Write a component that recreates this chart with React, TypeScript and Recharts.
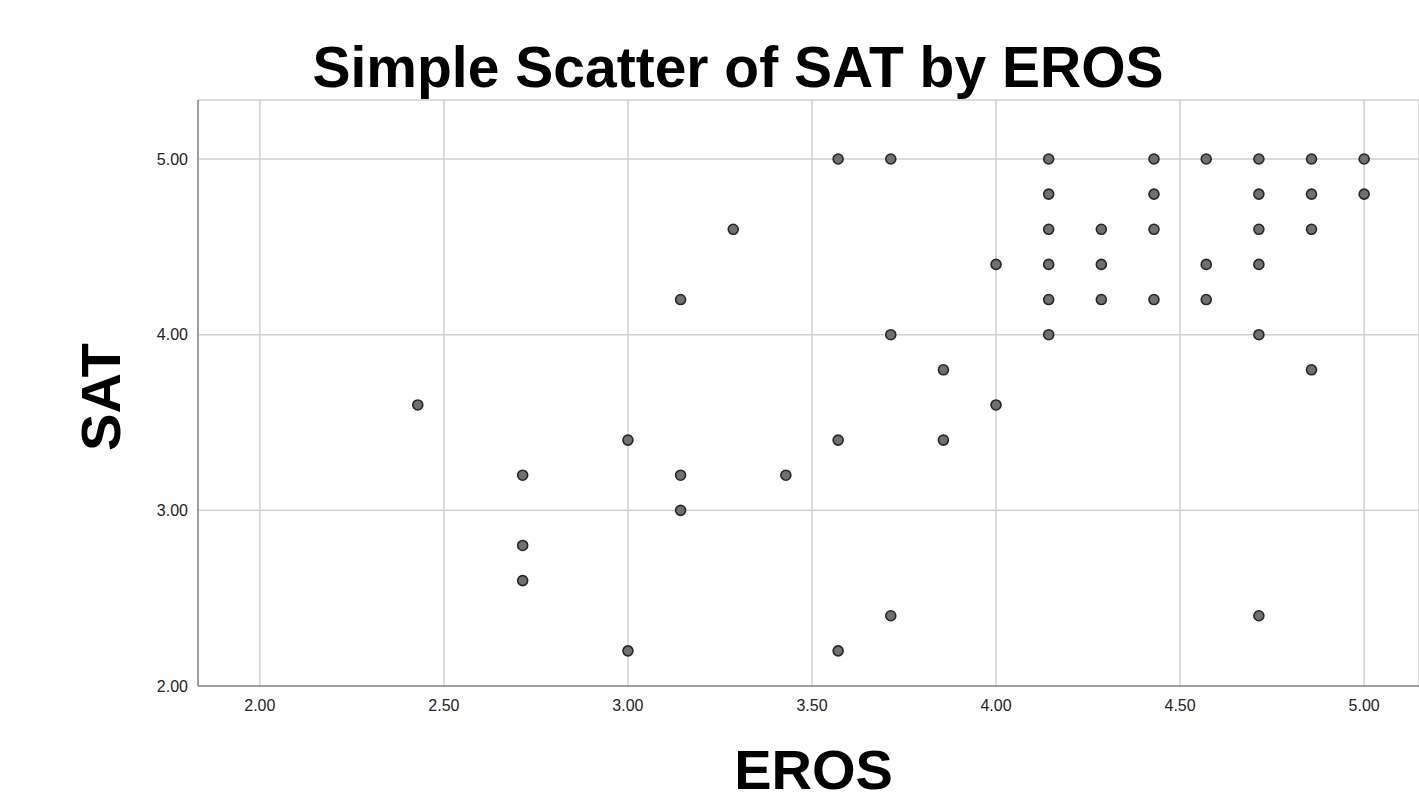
import React from "react";
import { ScatterChart, Scatter, XAxis, YAxis, CartesianGrid, Label } from "recharts";

const erosValues = [
  2.429,
  2.714, 2.714, 2.714,
  3.0, 3.0,
  3.143, 3.143, 3.143,
  3.286,
  3.429,
  3.571, 3.571, 3.571,
  3.714, 3.714, 3.714,
  3.857, 3.857,
  4.0, 4.0,
  4.143, 4.143, 4.143, 4.143, 4.143, 4.143,
  4.286, 4.286, 4.286,
  4.429, 4.429, 4.429, 4.429,
  4.571, 4.571, 4.571,
  4.714, 4.714, 4.714, 4.714, 4.714, 4.714,
  4.857, 4.857, 4.857, 4.857,
  5.0, 5.0,
];
const satValues = [
  3.6,
  3.2, 2.8, 2.6,
  3.4, 2.2,
  4.2, 3.2, 3.0,
  4.6,
  3.2,
  5.0, 3.4, 2.2,
  5.0, 4.0, 2.4,
  3.8, 3.4,
  4.4, 3.6,
  5.0, 4.8, 4.6, 4.4, 4.2, 4.0,
  4.6, 4.4, 4.2,
  5.0, 4.8, 4.6, 4.2,
  5.0, 4.4, 4.2,
  5.0, 4.8, 4.6, 4.4, 4.0, 2.4,
  5.0, 4.8, 4.6, 3.8,
  5.0, 4.8,
];
const xTicks = [2.0, 2.5, 3.0, 3.5, 4.0, 4.5, 5.0];
const yTicks = [2.0, 3.0, 4.0, 5.0];
const title = "Simple Scatter of SAT by EROS";
const xLabel = "EROS";
const yLabel = "SAT";

const data = erosValues.map((e, i) => ({ eros: e, sat: satValues[i] }));

const FONT = '"Liberation Sans", Arial, Helvetica, sans-serif';

const dot = (props: any) => (
  <circle cx={props.cx} cy={props.cy} r={5} fill="#707070" stroke="#262626" strokeWidth={1.6} />
);

export default function App() {
  return (
    <div style={{ position: "absolute", left: 0, top: 0, width: 1419, height: 802, background: "#fff", fontFamily: FONT }}>
      <div
        style={{
          position: "absolute",
          left: 0,
          top: 32,
          width: 1476,
          textAlign: "center",
          fontSize: 57,
          fontWeight: 700,
          lineHeight: "70px",
          color: "#000",
          fontFamily: FONT,
        }}
      >
        {title}
      </div>
      <ScatterChart width={1419} height={802} margin={{ top: 100, right: 0, bottom: 0, left: 0 }}>
        <CartesianGrid stroke="#d0d0d0" strokeWidth={1.5} />
        <XAxis
          type="number"
          dataKey="eros"
          domain={[1.832, 5.149]}
          ticks={xTicks}
          tickFormatter={(v: number) => v.toFixed(2)}
          tickLine={false}
          tickSize={6}
          tickMargin={8}
          height={116}
          axisLine={{ stroke: "#8a8a8a", strokeWidth: 1.5 }}
          tick={{ fill: "#222", fontSize: 16, fontFamily: FONT }}
          allowDataOverflow
        >
          <Label
            content={(p: any) => {
              const vb = p.viewBox;
              return (
                <text x={vb.x + vb.width / 2 + 5} y={vb.y + 103} textAnchor="middle" fontSize={56} fontWeight={700} fontFamily={FONT} fill="#000">
                  {xLabel}
                </text>
              );
            }}
          />
        </XAxis>
        <YAxis
          type="number"
          dataKey="sat"
          domain={[2.0, 5.336]}
          ticks={yTicks}
          tickFormatter={(v: number) => v.toFixed(2)}
          tickLine={false}
          tickSize={6}
          tickMargin={4}
          width={198}
          axisLine={{ stroke: "#8a8a8a", strokeWidth: 1.5 }}
          tick={{ fill: "#222", fontSize: 16, fontFamily: FONT }}
          allowDataOverflow
        >
          <Label
            content={(p: any) => {
              const vb = p.viewBox;
              const cx = 120;
              const cy = vb.y + vb.height / 2 + 4;
              return (
                <text x={cx} y={cy} transform={`rotate(-90 ${cx} ${cy})`} textAnchor="middle" fontSize={56} fontWeight={700} fontFamily={FONT} fill="#000">
                  {yLabel}
                </text>
              );
            }}
          />
        </YAxis>
        <Scatter data={data} shape={dot} isAnimationActive={false} />
      </ScatterChart>
    </div>
  );
}
